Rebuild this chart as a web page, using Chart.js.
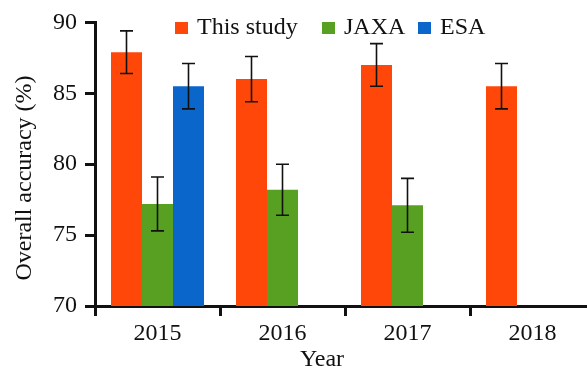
<!DOCTYPE html>
<html>
<head>
<meta charset="utf-8">
<script src="https://cdn.jsdelivr.net/npm/chart.js@4"></script>
<style>
  html, body { margin: 0; padding: 0; background: #fff; overflow: hidden; }
  #wrap { position: relative; width: 600px; height: 369px; }
</style>
</head>
<body>
<div id="wrap"><canvas id="c"></canvas></div>
<script>
// Overall accuracy by year, with standard-deviation error bars
const years = ['2015', '2016', '2017', '2018'];
const thisStudy    = [87.9, 86.0, 87.0, 85.5];
const thisStudyErr = [1.5, 1.6, 1.5, 1.6];
const jaxa    = [77.2, 78.2, 77.1, null];
const jaxaErr = [1.9, 1.8, 1.9, null];
const esa    = [85.5, null, null, null];
const esaErr = [1.6, null, null, null];
const yTicks = [70, 75, 80, 85, 90];

const FONT = "'Liberation Serif', 'Times New Roman', serif";
const COLORS = ['#FF470A', '#57A021', '#0B66CC'];

// Black whiskers with caps, drawn at each bar's centre
const errorBars = {
  id: 'errorBars',
  afterDatasetsDraw(chart) {
    const ctx = chart.ctx;
    const y = chart.scales.y;
    ctx.save();
    ctx.strokeStyle = '#111';
    ctx.lineWidth = 1.6;
    chart.data.datasets.forEach((ds, i) => {
      const meta = chart.getDatasetMeta(i);
      meta.data.forEach((bar, j) => {
        const v = ds.data[j], e = ds.err[j];
        if (v == null || e == null) return;
        const top = y.getPixelForValue(v + e);
        const bot = y.getPixelForValue(v - e);
        const cap = 6.5;
        ctx.beginPath();
        ctx.moveTo(bar.x, top); ctx.lineTo(bar.x, bot);
        ctx.moveTo(bar.x - cap, top); ctx.lineTo(bar.x + cap, top);
        ctx.moveTo(bar.x - cap, bot); ctx.lineTo(bar.x + cap, bot);
        ctx.stroke();
      });
    });
    ctx.restore();
  }
};

// Legend row inside the plot and the two axis titles
const annotations = {
  id: 'annotations',
  afterDraw(chart) {
    const ctx = chart.ctx;
    ctx.save();
    ctx.font = '24px ' + FONT;
    ctx.fillStyle = '#111';
    ctx.textBaseline = 'alphabetic';
    const legendX = [175, 322, 418];
    chart.data.datasets.forEach((ds, i) => {
      const x = legendX[i];
      ctx.fillStyle = ds.backgroundColor;
      ctx.fillRect(x, 22, 13, 12);
      ctx.fillStyle = '#111';
      ctx.textAlign = 'left';
      ctx.fillText(ds.label, x + 22, 33.5);
    });

    ctx.textAlign = 'center';
    ctx.textBaseline = 'middle';
    ctx.fillText('Year', 322, 360);

    ctx.translate(25, 178);
    ctx.rotate(-Math.PI / 2);
    ctx.fillText('Overall accuracy (%)', 0, 0);
    ctx.restore();
  }
};

new Chart(document.getElementById('c'), {
  type: 'bar',
  data: {
    labels: years,
    datasets: [
      { label: 'This study', data: thisStudy, err: thisStudyErr, backgroundColor: COLORS[0] },
      { label: 'JAXA', data: jaxa, err: jaxaErr, backgroundColor: COLORS[1] },
      { label: 'ESA', data: esa, err: esaErr, backgroundColor: COLORS[2] }
    ]
  },
  options: {
    responsive: true,
    maintainAspectRatio: false,
    animation: false,
    events: [],
    layout: { padding: { left: 0, top: 22, right: 5, bottom: 0 } },
    datasets: { bar: { categoryPercentage: 0.744, barPercentage: 1.0, borderWidth: 0 } },
    plugins: { legend: { display: false }, tooltip: { enabled: false } },
    scales: {
      x: {
        offset: true,
        grid: { display: true, offset: true, drawOnChartArea: false, drawTicks: true,
                tickLength: 10, color: '#111', lineWidth: 3 },
        border: { display: true, color: '#111', width: 3 },
        ticks: { color: '#111', font: { family: FONT, size: 24 }, padding: 3, maxRotation: 0 },
        afterFit(s) { s.height = 63; }
      },
      y: {
        min: 70, max: 90,
        afterBuildTicks(s) { s.ticks = yTicks.map(v => ({ value: v })); },
        grid: { display: true, drawOnChartArea: false, drawTicks: true,
                tickLength: 10, color: '#111', lineWidth: 3 },
        border: { display: true, color: '#111', width: 3 },
        ticks: { color: '#111', font: { family: FONT, size: 24 }, padding: 8 },
        afterFit(s) { s.width = 95; }
      }
    }
  },
  plugins: [errorBars, annotations]
});
</script>
</body>
</html>
